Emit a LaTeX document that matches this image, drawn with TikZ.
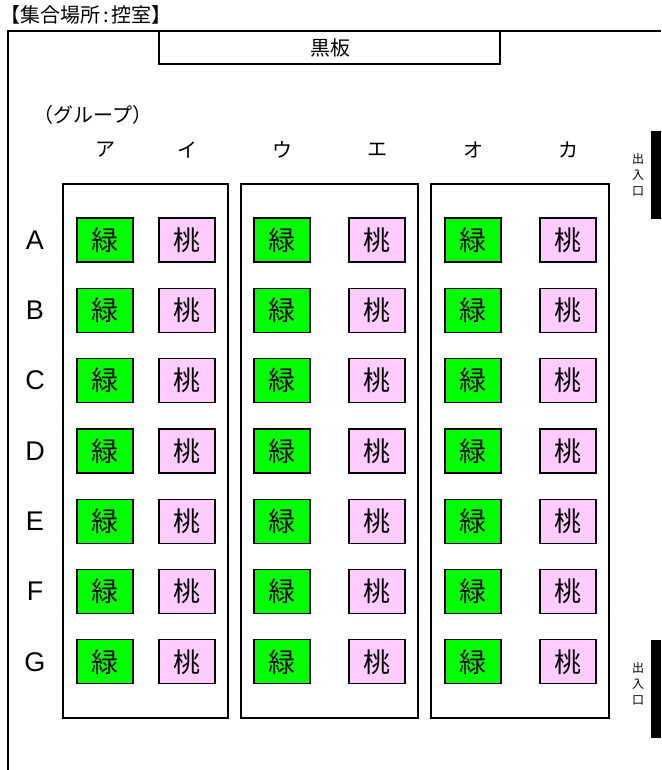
\documentclass[tikz,border=0pt]{standalone}
\usepackage{fontspec}
\setmainfont{Liberation Sans}
\newfontfamily\jpfont{Noto Sans CJK JP}
\definecolor{midori}{HTML}{00FF00}
\definecolor{momo}{HTML}{FFCCFF}
\begin{document}
\begin{tikzpicture}[x=1pt,y=-1pt,
  seat/.style={draw=black,line width=1.2pt,minimum width=56pt,minimum height=44pt,
    inner sep=0pt,font=\jpfont\fontsize{27}{27}\selectfont},
  jp/.style={font=\jpfont\fontsize{20}{20}\selectfont},
  rowlabel/.style={font=\fontsize{27}{27}\selectfont},
  door/.style={font=\jpfont\fontsize{12}{16}\selectfont,align=center}]
   \useasboundingbox (0,0) rectangle (661,770);
   % room and blackboard
   \draw[line width=2pt] (8,770) -- (8,31) -- (661,31);
   \draw[line width=1.5pt] (159,31) rectangle (500,64);
   \node[jp] (kokuban) at (330,48) {黒板};
   \node[jp,anchor=west,inner sep=0pt] (title) at (0,15) {【集合場所\kern3pt:\kern3pt控室】};
   \node[jp,anchor=west,inner sep=0pt] (group) at (33,115) {（グループ）};
   \foreach \c/\x/\t in {a/105/ア,i/187/イ,u/282/ウ,e/377/エ,o/473/オ,ka/568/カ}
     \node[jp] (col\c) at (\x,150) {\t};
   % groups
   \draw[line width=2.5pt] (63,184) rectangle (228,718);
   \draw[line width=1.5pt] (241,184) rectangle (418,718);
   \draw[line width=1.5pt] (431,184) rectangle (609,718);
   \foreach \r [count=\i from 0] in {A,B,C,D,E,F,G} {
     \pgfmathsetmacro\yy{240+70.3*\i}
     \node[rowlabel] (row\r) at (35,\yy) {\r};
     \foreach \g/\xg/\xp in {1/105/187,2/282/377,3/473/568} {
       \node[seat,fill=midori] (g\g\r) at (\xg,\yy) {緑};
       \node[seat,fill=momo] (p\g\r) at (\xp,\yy) {桃};
     }
   }
   % doors
   \fill (651,131) rectangle (661,219);
   \fill (651,640) rectangle (661,738);
   \node[door] (door1) at (638,175) {出\\入\\口};
   \node[door] (door2) at (638,684) {出\\入\\口};
\end{tikzpicture}
\end{document}
